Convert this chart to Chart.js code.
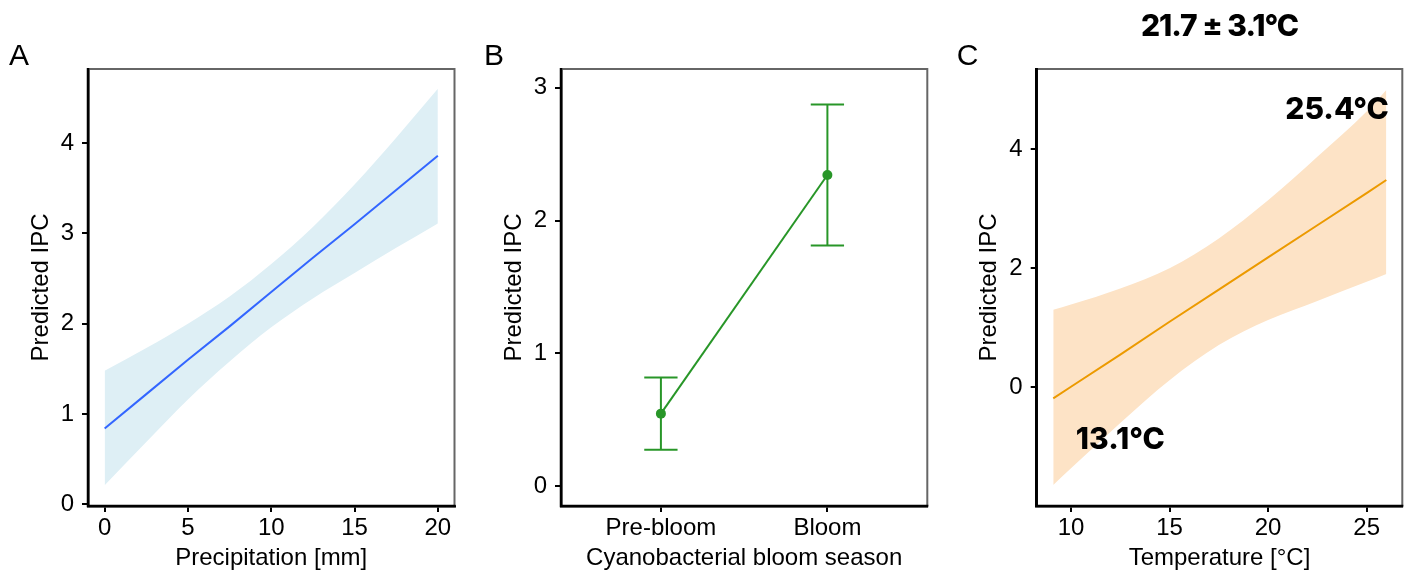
<!DOCTYPE html>
<html>
<head>
<meta charset="utf-8">
<script src="https://cdn.jsdelivr.net/npm/chart.js@4.4.1/dist/chart.umd.min.js"></script>
<style>
  html, body { margin: 0; padding: 0; background: #fff; }
  #wrap { position: relative; width: 1411px; height: 577px; overflow: hidden; }
  .panel { position: absolute; top: 0; height: 577px; }
</style>
</head>
<body>
<div id="wrap">
  <div class="panel" style="left:0;width:470px"><canvas id="chartA" width="470" height="577"></canvas></div>
  <div class="panel" style="left:470px;width:470px"><canvas id="chartB" width="470" height="577"></canvas></div>
  <div class="panel" style="left:940px;width:471px"><canvas id="chartC" width="471" height="577"></canvas></div>
</div>
<script>
// A: precipitation
var precipX     = [0, 2.5, 5, 7.5, 10, 12.5, 15, 17.5, 20];
var precipFit   = [0.84, 1.22, 1.60, 1.97, 2.35, 2.73, 3.10, 3.48, 3.86];
var precipUpper = [1.48, 1.73, 2.00, 2.30, 2.66, 3.07, 3.54, 4.06, 4.60];
var precipLower = [0.21, 0.69, 1.16, 1.58, 1.96, 2.28, 2.56, 2.84, 3.11];
var precipTicksX = [0, 5, 10, 15, 20];
var precipTicksY = [0, 1, 2, 3, 4];

// B: bloom season
var seasons     = ["Pre-bloom", "Bloom"];
var seasonFit   = [0.547, 2.343];
var seasonUpper = [0.819, 2.874];
var seasonLower = [0.275, 1.812];
var seasonTicksY = [0, 1, 2, 3];

// C: temperature
var tempX     = [9.1, 10, 12.5, 15, 17.5, 20, 22.5, 25, 26];
var tempFit   = [-0.185, 0.01, 0.55, 1.10, 1.64, 2.18, 2.72, 3.26, 3.48];
var tempUpper = [1.30, 1.39, 1.66, 2.00, 2.50, 3.14, 3.87, 4.63, 4.99];
var tempLower = [-1.64, -1.36, -0.60, 0.12, 0.71, 1.13, 1.45, 1.77, 1.90];
var tempTicksX = [10, 15, 20, 25];
var tempTicksY = [0, 2, 4];
var tempTitle = "21.7 \u00b1 3.1\u00b0C";
var noteLabels = ["25.4\u00b0C", "13.1\u00b0C"];
var noteX = [23.5, 12.5];
var noteY = [4.66, -0.88];

var FONT = "'Liberation Sans', Arial, Helvetica, sans-serif";
var BOLD = "Inter, 'Liberation Sans', sans-serif";
Chart.defaults.font.family = FONT;
Chart.defaults.color = "#000";

function xy(xs, ys) {
    var out = [];
    for (var i = 0; i < xs.length; i++) out.push({x: xs[i], y: ys[i]});
    return out;
}

// draws the gray top/right frame, the panel letter and any extra text
function decor(letter, letterX, extra) {
    return {
        id: "decor" + letter,
        afterDraw: function (chart) {
            var ctx = chart.ctx, a = chart.chartArea;
            ctx.save();
            ctx.strokeStyle = "#666";
            ctx.lineWidth = 2;
            ctx.beginPath();
            ctx.moveTo(a.left, a.top);
            ctx.lineTo(a.right, a.top);
            ctx.lineTo(a.right, a.bottom);
            ctx.stroke();
            // black axis lines on left and bottom
            ctx.strokeStyle = "#000";
            ctx.lineWidth = 2.5;
            ctx.beginPath();
            ctx.moveTo(a.left, a.top - 1);
            ctx.lineTo(a.left, a.bottom);
            ctx.lineTo(a.right + 1, a.bottom);
            ctx.stroke();
            ctx.fillStyle = "#000";
            ctx.font = "30px " + FONT;
            ctx.textAlign = "left";
            ctx.textBaseline = "alphabetic";
            ctx.fillText(letter, letterX, 65);
            if (extra) extra(chart, ctx);
            ctx.restore();
        }
    };
}

function axisOpts(o) {
    return {
        type: "linear",
        min: o.min, max: o.max,
        afterBuildTicks: function (s) { s.ticks = o.ticks.map(function (v) { return {value: v}; }); },
        afterFit: function (s) { if (o.width) s.width = o.width; if (o.height) s.height = o.height; },
        grid: {drawOnChartArea: false, drawTicks: true, tickLength: 6, color: "#000", lineWidth: 2},
        border: {display: true, color: "#000", width: 2.5},
        ticks: {
            color: "#000", font: {size: 24}, padding: o.pad, maxRotation: 0, autoSkip: false,
            callback: o.label || function (v) { return v; }
        },
        title: {display: true, text: o.title, color: "#000", font: {size: 24}, padding: o.titlePad}
    };
}

function baseOptions(padRight, x, y) {
    return {
        responsive: false,
        animation: false,
        events: [],
        layout: {padding: {left: 0, right: padRight, top: 69, bottom: 0}},
        plugins: {legend: {display: false}, tooltip: {enabled: false}},
        scales: {x: x, y: y}
    };
}

// ---- A ----  (first dataset is drawn last, so the fit line goes first)
new Chart(document.getElementById("chartA"), {
    type: "line",
    data: {
        datasets: [
            {data: xy(precipX, precipFit), borderColor: "#3366FF", borderWidth: 2, pointRadius: 0, fill: false},
            {data: xy(precipX, precipUpper), borderWidth: 0, pointRadius: 0, backgroundColor: "#DEEFF5",
             fill: "+1", cubicInterpolationMode: "monotone"},
            {data: xy(precipX, precipLower), borderWidth: 0, pointRadius: 0, fill: false,
             cubicInterpolationMode: "monotone"}
        ]
    },
    options: baseOptions(15.5,
        axisOpts({min: -1, max: 21, ticks: precipTicksX, height: 71, pad: 2,
                  title: "Precipitation [mm]", titlePad: {top: 0, bottom: 4.6}}),
        axisOpts({min: -0.019, max: 4.82, ticks: precipTicksY, width: 88, pad: 8,
                  title: "Predicted IPC", titlePad: {top: 26.6, bottom: 0}})),
    plugins: [decor("A", 9, null)]
});

// ---- B ----
var capHalf = 0.1;
var errorSets = seasons.map(function (s, i) {
    var c = i + 1;
    return {
        data: [
            {x: c - capHalf, y: seasonUpper[i]}, {x: c + capHalf, y: seasonUpper[i]}, {x: c, y: null},
            {x: c, y: seasonUpper[i]}, {x: c, y: seasonLower[i]}, {x: c, y: null},
            {x: c - capHalf, y: seasonLower[i]}, {x: c + capHalf, y: seasonLower[i]}
        ],
        borderColor: "#289628", borderWidth: 2, pointRadius: 0, fill: false, spanGaps: false
    };
});
new Chart(document.getElementById("chartB"), {
    type: "line",
    data: {
        datasets: [{
            data: xy([1, 2], seasonFit),
            borderColor: "#289628", borderWidth: 2,
            pointRadius: 5, pointBackgroundColor: "#289628", pointBorderWidth: 0, fill: false
        }].concat(errorSets)
    },
    options: baseOptions(12.7,
        axisOpts({min: 0.4, max: 2.6, ticks: [1, 2], height: 71, pad: 2,
                  label: function (v) { return seasons[v - 1]; },
                  title: "Cyanobacterial bloom season", titlePad: {top: 0, bottom: 4.6}}),
        axisOpts({min: -0.148, max: 3.141, ticks: seasonTicksY, width: 91, pad: 8,
                  title: "Predicted IPC", titlePad: {top: 29.6, bottom: 0}})),
    plugins: [decor("B", 14, null)]
});

// ---- C ----
new Chart(document.getElementById("chartC"), {
    type: "line",
    data: {
        datasets: [
            {data: xy(tempX, tempFit), borderColor: "#EC9A00", borderWidth: 2, pointRadius: 0, fill: false},
            {data: xy(tempX, tempUpper), borderWidth: 0, pointRadius: 0, backgroundColor: "#FDE3C6",
             fill: "+1", cubicInterpolationMode: "monotone"},
            {data: xy(tempX, tempLower), borderWidth: 0, pointRadius: 0, fill: false,
             cubicInterpolationMode: "monotone"}
        ]
    },
    options: baseOptions(8.7,
        axisOpts({min: 8.26, max: 26.81, ticks: tempTicksX, height: 71, pad: 2,
                  title: "Temperature [\u00b0C]", titlePad: {top: 0, bottom: 4.6}}),
        axisOpts({min: -1.992, max: 5.343, ticks: tempTicksY, width: 96.7, pad: 8,
                  title: "Predicted IPC", titlePad: {top: 34.6, bottom: 0}})),
    plugins: [decor("C", 16.7, function (chart, ctx) {
        var a = chart.chartArea;
        ctx.textAlign = "center";
        ctx.textBaseline = "middle";
        ctx.font = "800 30px " + BOLD;
        ctx.letterSpacing = "-1px";
        ctx.fillText(tempTitle, (a.left + a.right) / 2, 27);
        ctx.letterSpacing = "0px";
        for (var i = 0; i < noteLabels.length; i++) {
            ctx.fillText(noteLabels[i], chart.scales.x.getPixelForValue(noteX[i]),
                         chart.scales.y.getPixelForValue(noteY[i]));
        }
    })]
});
</script>
</body>
</html>
